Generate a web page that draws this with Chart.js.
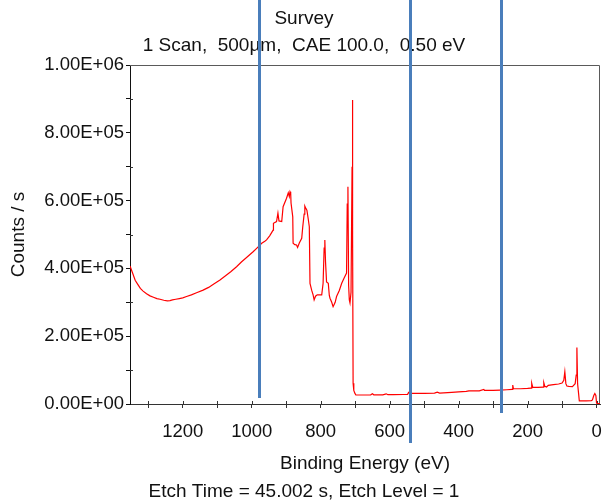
<!DOCTYPE html>
<html>
<head>
<meta charset="utf-8">
<script src="https://cdn.jsdelivr.net/npm/chart.js@4.4.1/dist/chart.umd.min.js"></script>
<style>
  html, body { margin: 0; padding: 0; background: #ffffff; }
  #wrap { width: 605px; height: 502px; }
</style>
</head>
<body>
<div id="wrap"><canvas id="c" width="605" height="502"></canvas></div>
<script>
// ---- data ----
const titleLines = ['Survey', '1 Scan,  500\u00b5m,  CAE 100.0,  0.50 eV'];
const subtitleText = 'Etch Time = 45.002 s, Etch Level = 1';
const xAxisTitle = 'Binding Energy (eV)';
const yAxisTitle = 'Counts / s';

const yTickValues = [0, 200000, 400000, 600000, 800000, 1000000];
const yTickLabels = ['0.00E+00', '2.00E+05', '4.00E+05', '6.00E+05', '8.00E+05', '1.00E+06'];
const xTickValues = [0, 200, 400, 600, 800, 1000, 1200];
const xTickLabels = ['0', '200', '400', '600', '800', '1000', '1200'];

// binding energy (eV) and counts/s of the survey trace
const energy = [
  1353, 1345, 1338, 1330, 1323, 1315, 1305, 1295, 1285, 1275, 1266, 1255, 1245, 1237, 1230,
  1220, 1210, 1200, 1189, 1175, 1160, 1141, 1125, 1110, 1092, 1075, 1060, 1044, 1030, 1015,
  996, 985, 971, 962, 957, 948, 938, 937, 928, 924, 921, 913, 909, 899, 894,
  891, 889, 887, 886, 881, 880, 875, 870, 867, 862, 855, 852, 848, 846, 843,
  840, 836, 833, 831, 826, 822, 819, 815, 810, 800, 797, 793, 790, 788, 786,
  783, 778, 775, 773, 768, 764, 758, 754, 746, 739, 732, 725, 723, 721, 719,
  717, 715, 712, 709, 708, 707, 706, 704, 701, 698, 680, 665, 655, 650, 646,
  620, 610, 605, 590, 560, 548, 545, 542, 500, 470, 462, 455, 420, 400, 378,
  370, 367, 340, 327, 325, 300, 280, 260, 245, 243, 241, 220, 200, 190, 188,
  185, 170, 155, 153, 150, 145, 140, 125, 110, 100, 95, 92, 89, 86, 80,
  70, 62, 59, 57, 55, 52, 50, 30, 15, 12, 8, 5, 2, 0, -2,
  -10
];
const counts = [
  407000, 385000, 365000, 352000, 341000, 333000, 325000, 319000, 315000, 311000, 309000, 306000, 304000, 305000, 307000,
  309000, 311000, 313000, 317000, 322000, 328000, 336000, 344000, 354000, 366000, 379000, 391000, 405000, 419000, 432000,
  449000, 460000, 474000, 480000, 484000, 496000, 513000, 533000, 538000, 563000, 540000, 538000, 582000, 607000, 623000,
  612000, 626000, 621000, 593000, 552000, 474000, 470000, 469000, 462000, 475000, 489000, 523000, 560000, 584000, 577000,
  572000, 545000, 523000, 356000, 335000, 322000, 307000, 318000, 322000, 322000, 322000, 356000, 460000, 484000, 420000,
  360000, 356000, 320000, 312000, 300000, 287000, 300000, 317000, 335000, 356000, 372000, 386000, 590000, 641000, 350000,
  307000, 298000, 330000, 700000, 897000, 500000, 61000, 40000, 32000, 26500, 26500, 26500, 27000, 30000, 27000,
  27000, 30000, 27500, 27500, 28000, 28500, 34000, 31500, 31500, 32000, 35000, 32000, 34000, 35500, 37000,
  38500, 39000, 39000, 43000, 40000, 40000, 41000, 42000, 43000, 56000, 45000, 45000, 46000, 47000, 61000,
  49000, 49000, 50000, 63000, 52000, 50000, 55000, 57000, 59000, 62000, 70000, 95000, 60000, 53000, 52000,
  51000, 60000, 85000, 167000, 60000, 30000, 9000, 9000, 9500, 12000, 25000, 31000, 25000, 3000, 1000,
  1000
];

// blue marker lines drawn over the figure: energy position and lower end (counts)
const markerEnergy = [977.7, 540.7, 276.9];
const markerBottom = [18000, -115000, -26500];

const FONT = "'Liberation Sans', Arial, sans-serif";

const points = energy.map((e, i) => ({ x: e, y: counts[i] }));

const framePlugin = {
  id: 'frame',
  beforeDatasetsDraw(chart) {
    const { ctx, chartArea: a } = chart;
    const xs = chart.scales.x, ys = chart.scales.y;
    ctx.save();
    ctx.strokeStyle = '#5a5a5a';
    ctx.lineWidth = 1;
    ctx.beginPath();
    ctx.moveTo(a.left, a.top + 0.5);
    ctx.lineTo(a.right - 0.5, a.top + 0.5);
    ctx.lineTo(a.right - 0.5, a.bottom);
    ctx.stroke();
    // inner halves of the tick marks (ticks cross the axes)
    ctx.strokeStyle = '#333';
    ctx.beginPath();
    xs.ticks.forEach(t => {
      const px = Math.round(xs.getPixelForValue(t.value)) + 0.5;
      ctx.moveTo(px, a.bottom);
      ctx.lineTo(px, a.bottom - 3);
    });
    ys.ticks.forEach(t => {
      if (yTickValues.indexOf(t.value) >= 0) return;
      const py = Math.round(ys.getPixelForValue(t.value)) + 0.5;
      ctx.moveTo(a.left, py);
      ctx.lineTo(a.left + 3, py);
    });
    ctx.stroke();
    ctx.restore();
  }
};

const markerPlugin = {
  id: 'markers',
  afterDraw(chart) {
    const { ctx } = chart;
    const xs = chart.scales.x, ys = chart.scales.y;
    ctx.save();
    ctx.strokeStyle = '#4a7ebb';
    ctx.lineWidth = 3;
    markerEnergy.forEach((e, i) => {
      const px = Math.round(xs.getPixelForValue(e)) + 0.5;
      ctx.beginPath();
      ctx.moveTo(px, 0);
      ctx.lineTo(px, ys.getPixelForValue(markerBottom[i]));
      ctx.stroke();
    });
    ctx.restore();
  }
};

new Chart(document.getElementById('c'), {
  type: 'line',
  data: {
    datasets: [{
      data: points,
      borderColor: '#ff0000',
      borderWidth: 1.2,
      pointRadius: 0,
      tension: 0,
      fill: false
    }]
  },
  options: {
    responsive: false,
    animation: false,
    devicePixelRatio: 1,
    layout: { padding: { left: 3, right: 0, top: 0, bottom: 0 } },
    plugins: {
      legend: { display: false },
      tooltip: { enabled: false },
      title: {
        display: true,
        text: titleLines,
        color: '#111',
        font: { family: FONT, size: 19, weight: 'normal', lineHeight: '27px' },
        padding: { top: 5, bottom: 6 }
      },
      subtitle: {
        display: true,
        position: 'bottom',
        text: subtitleText,
        color: '#111',
        font: { family: FONT, size: 19, weight: 'normal', lineHeight: 1 },
        padding: { top: 0, bottom: 1 }
      }
    },
    scales: {
      x: {
        type: 'linear',
        reverse: true,
        min: -10,
        max: 1353,
        afterFit(s) { s.height = 78; s.paddingLeft = 0; s.paddingRight = 5; },
        ticks: {
          stepSize: 100,
          includeBounds: false,
          autoSkip: false,
          maxRotation: 0,
          color: '#111',
          font: { family: FONT, size: 18.5 },
          padding: 13,
          callback(v) {
            const i = xTickValues.indexOf(v);
            return i >= 0 ? xTickLabels[i] : '';
          }
        },
        grid: { drawOnChartArea: false, tickLength: 4, color: '#333', tickColor: '#333' },
        border: { color: '#333', width: 1 },
        title: {
          display: true,
          text: xAxisTitle,
          color: '#111',
          font: { family: FONT, size: 19 },
          padding: { top: 0, bottom: 7 }
        }
      },
      y: {
        type: 'linear',
        min: 0,
        max: 1000000,
        afterFit(s) { s.width = 127; },
        ticks: {
          stepSize: 100000,
          autoSkip: false,
          color: '#111',
          font: { family: FONT, size: 18.5 },
          padding: 2,
          callback(v) {
            const i = yTickValues.indexOf(v);
            return i >= 0 ? yTickLabels[i] : '';
          }
        },
        grid: { drawOnChartArea: false, tickLength: 4, color: '#111', tickColor: '#111' },
        border: { color: '#111', width: 1 },
        title: {
          display: true,
          text: yAxisTitle,
          color: '#111',
          font: { family: FONT, size: 19 },
          padding: { top: 4, bottom: 0 }
        }
      }
    }
  },
  plugins: [framePlugin, markerPlugin]
});
</script>
</body>
</html>
